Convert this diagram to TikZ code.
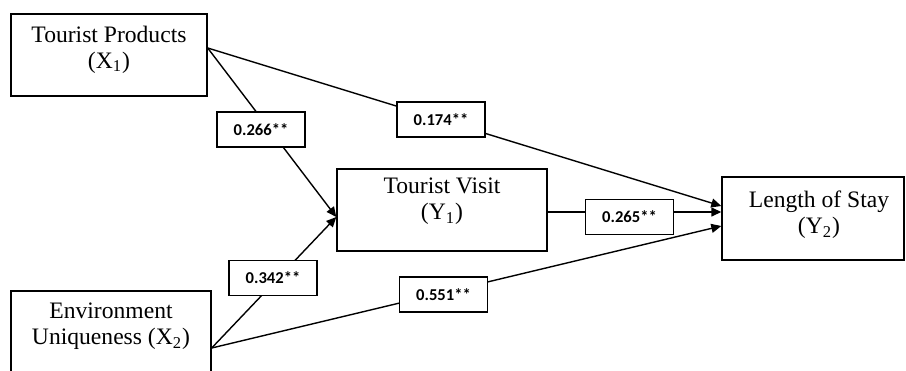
\documentclass[tikz,border=0pt]{standalone}
\usepackage{fontspec}
\setmainfont{Liberation Serif}
\newfontfamily\lblfont{Carlito}
\usetikzlibrary{arrows.meta}
\begin{document}
\begin{tikzpicture}[x=0.5pt,y=-0.5pt,
  box/.style={draw, line width=0.7pt, rectangle, inner sep=0pt},
  boxtext/.style={font=\fontsize{11.8}{13}\selectfont, align=center, inner sep=0pt},
  coef/.style={draw, fill=white, line width=0.7pt, minimum width=44pt, minimum height=17.5pt, inner sep=0pt, font=\lblfont\bfseries\fontsize{8.3}{10}\selectfont},
  link/.style={line width=0.7pt},
  arr/.style={link, -{Triangle[length=5pt,width=4.5pt]}}]
\useasboundingbox (0,0) rectangle (906,370);
\clip (0,0) rectangle (906,370);

\node[box, minimum width=98pt, minimum height=41pt,
  label={[boxtext, yshift=2.75pt]center:Tourist Products\\(X\textsubscript{1})}] (X1) at (109,55) {};
\node[box, minimum width=100pt, minimum height=57pt,
  label={[boxtext, yshift=10.75pt]center:Environment\\Uniqueness (X\textsubscript{2})}] (X2) at (111,348) {};
\node[box, minimum width=105pt, minimum height=41pt,
  label={[boxtext, yshift=4.25pt]center:Tourist Visit\\(Y\textsubscript{1})}] (Y1) at (442,210) {};
\node[box, minimum width=91pt, minimum height=41.5pt,
  label={[boxtext, xshift=3pt, yshift=1.75pt]center:Length of Stay\\(Y\textsubscript{2})}] (Y2) at (813,218.5) {};

\draw[arr] ([yshift=3.5pt]X1.east) -- ([yshift=-3.5pt]Y1.west);
\draw[arr] (X2.east) -- ([yshift=-3.5pt]Y1.west);
\draw[arr] ([yshift=3.5pt]X1.east) -- ([yshift=6.25pt]Y2.west);
\draw[arr] ([yshift=-1pt]Y1.east) -- ([yshift=3.25pt]Y2.west);
\draw[arr] (X2.east) -- ([yshift=-3.75pt]Y2.west);

\node[coef] (c266) at (261,129.5) {0.266**};
\node[coef] (c174) at (441,119.5) {0.174**};
\node[coef] (c342) at (273,278) {0.342**};
\node[coef] (c551) at (443.5,294.5) {0.551**};
\node[coef] (c265) at (629.5,217) {0.265**};
\end{tikzpicture}
\end{document}
